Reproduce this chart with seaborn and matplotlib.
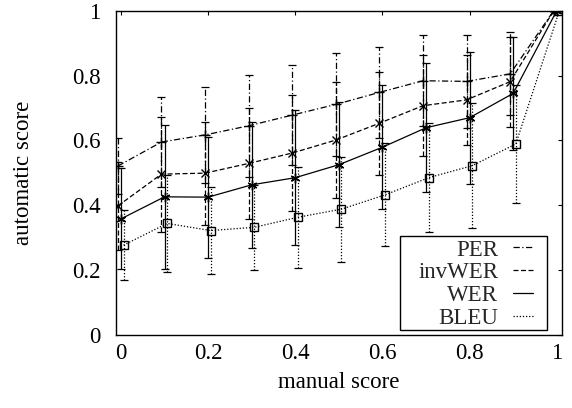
import matplotlib
matplotlib.use("Agg")
import matplotlib.pyplot as plt
from matplotlib.lines import Line2D
from matplotlib.patches import Rectangle
import seaborn as sns
import numpy as np
import pandas as pd

# ---- data ----
manual = [0.0, 0.1, 0.2, 0.3, 0.4, 0.5, 0.6, 0.7, 0.8, 0.9, 1.0]
series_names = ["PER", "invWER", "WER", "BLEU"]
PER = [0.521, 0.595, 0.617, 0.645, 0.678, 0.711, 0.748, 0.784, 0.782, 0.805, 1.0]
PER_err = [0.085, 0.138, 0.149, 0.157, 0.155, 0.158, 0.141, 0.141, 0.143, 0.128, 0.0]
invWER = [0.398, 0.496, 0.499, 0.529, 0.561, 0.601, 0.653, 0.707, 0.725, 0.781, 1.0]
invWER_err = [0.136, 0.177, 0.159, 0.170, 0.180, 0.180, 0.159, 0.155, 0.139, 0.139, 0.0]
WER = [0.358, 0.426, 0.425, 0.463, 0.485, 0.525, 0.579, 0.639, 0.670, 0.745, 1.0]
WER_err = [0.156, 0.222, 0.187, 0.195, 0.209, 0.192, 0.192, 0.199, 0.204, 0.175, 0.0]
BLEU = [0.277, 0.344, 0.322, 0.332, 0.363, 0.388, 0.432, 0.485, 0.522, 0.589, 1.0]
BLEU_err = [0.108, 0.149, 0.135, 0.131, 0.156, 0.162, 0.159, 0.168, 0.192, 0.183, 0.0]
xtick_vals = [0, 0.2, 0.4, 0.6, 0.8, 1]
xtick_labels = ["0", "0.2", "0.4", "0.6", "0.8", "1"]
ytick_vals = [0, 0.2, 0.4, 0.6, 0.8, 1]
ytick_labels = ["0", "0.2", "0.4", "0.6", "0.8", "1"]

values = {"PER": PER, "invWER": invWER, "WER": WER, "BLEU": BLEU}
errors = {"PER": PER_err, "invWER": invWER_err, "WER": WER_err, "BLEU": BLEU_err}

rows = []
for name in series_names:
    for x, y, e in zip(manual, values[name], errors[name]):
        rows.append({"series": name, "manual": x, "score": y, "err": e})
df = pd.DataFrame(rows)

# ---- style ----
sns.set_theme(style="white")
plt.rcParams["font.family"] = ["Liberation Serif", "DejaVu Serif"]

FS = 16.5
dodge = {"PER": -0.007, "invWER": -0.007, "WER": 0.0, "BLEU": 0.006}
lstyle = {"PER": (0, (5, 2, 1, 2)), "invWER": (0, (4, 2)),
          "WER": "-", "BLEU": (0, (1, 1.5))}
mk = {"PER": "+", "invWER": "x", "WER": (6, 2, 0), "BLEU": "s"}
msz = {"PER": 7, "invWER": 6, "WER": 7, "BLEU": 6}

fig = plt.figure(figsize=(5.72, 4.08), dpi=100)
ax = fig.add_axes([0.2023, 0.179, 0.9825 - 0.2023, 0.9738 - 0.179])

for name in series_names:
    sub = df[df["series"] == name].copy()
    sub["xpos"] = sub["manual"] + dodge[name]
    eb = ax.errorbar(sub["xpos"], sub["score"], yerr=sub["err"], fmt="none",
                     ecolor="black", elinewidth=0.9, capsize=3,
                     capthick=0.9, zorder=2)
    for coll in eb[2]:
        coll.set_linestyle(lstyle[name])
    sns.lineplot(data=sub, x="xpos", y="score", ax=ax, color="black",
                 linewidth=0.9, linestyle=lstyle[name], marker=mk[name],
                 markersize=msz[name], mfc="none", mec="black", mew=1.0,
                 errorbar=None, sort=True, zorder=3, legend=False)

ax.set_xlim(-0.012, 1.012)
ax.set_ylim(0, 1)
ax.set_xticks(xtick_vals)
ax.set_xticklabels(xtick_labels)
ax.set_yticks(ytick_vals)
ax.set_yticklabels(ytick_labels)
ax.tick_params(direction="in", length=3, width=0.8, top=True, right=True,
               labelsize=FS, colors="black")
ax.tick_params(axis="y", pad=11)
ax.tick_params(axis="x", pad=6)
for sp in ax.spines.values():
    sp.set_color("black")
    sp.set_linewidth(1.0)

ax.set_xlabel("manual score", fontsize=FS, color="black")
ax.set_ylabel("automatic score", fontsize=FS, color="black")
ax.xaxis.set_label_coords(0.5, -0.115)
ax.yaxis.set_label_coords(-0.183, 0.5)

# legend frame (gnuplot-style box)
frame = Rectangle((0.637, 0.015), 0.966 - 0.637, 0.305 - 0.015,
                  transform=ax.transAxes, facecolor="white",
                  edgecolor="black", linewidth=1.0, zorder=4)
ax.add_patch(frame)

handles = [Line2D([0], [0], color="black", lw=0.9, linestyle=lstyle[n])
           for n in series_names]
leg = ax.legend(handles, series_names, loc="lower right",
                bbox_to_anchor=(0.935, 0.018), markerfirst=False,
                fontsize=FS, frameon=False, borderaxespad=0,
                handlelength=0.87, handletextpad=0.65, labelspacing=0.08,
                borderpad=0.0)
leg.set_zorder(5)

fig.savefig("out.png", dpi=100, facecolor="white")
